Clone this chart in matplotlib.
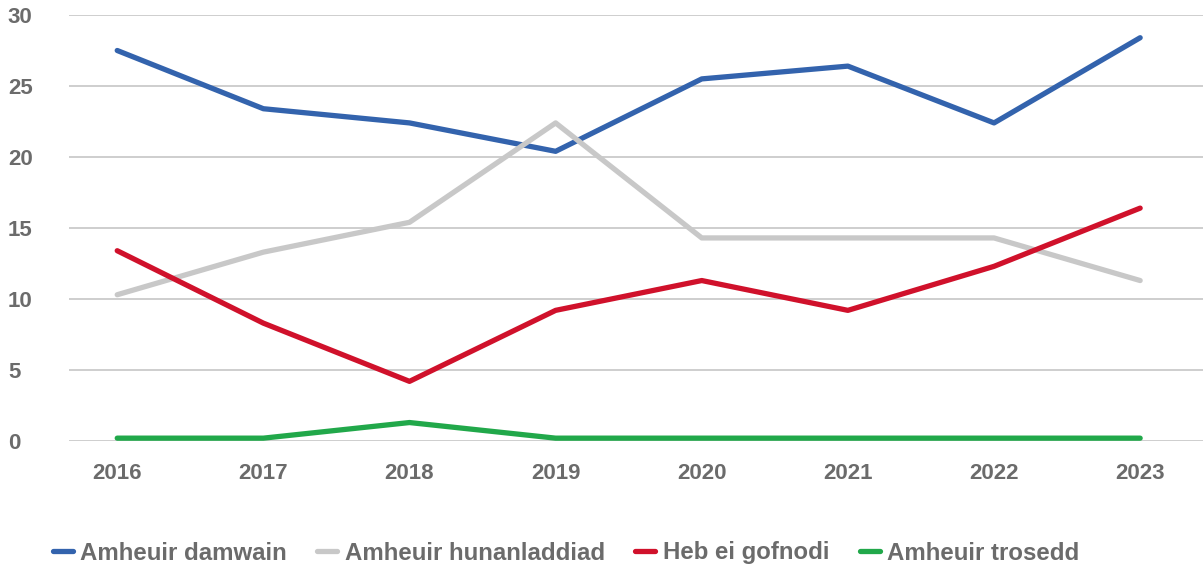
import matplotlib.pyplot as plt

years = ['2016', '2017', '2018', '2019', '2020', '2021', '2022', '2023']
damwain = [27.5, 23.4, 22.4, 20.4, 25.5, 26.4, 22.4, 28.4]
hunanladdiad = [10.3, 13.3, 15.4, 22.4, 14.3, 14.3, 14.3, 11.3]
heb_gofnodi = [13.4, 8.3, 4.2, 9.2, 11.3, 9.2, 12.3, 16.4]
trosedd = [0.2, 0.2, 1.3, 0.2, 0.2, 0.2, 0.2, 0.2]

series = [
    ('Amheuir damwain', damwain, '#3363ad'),
    ('Amheuir hunanladdiad', hunanladdiad, '#c8c8c8'),
    ('Heb ei gofnodi', heb_gofnodi, '#d0112b'),
    ('Amheuir trosedd', trosedd, '#21a84a'),
]

plt.rcParams['font.family'] = ['Liberation Sans', 'DejaVu Sans']
txt = '#6b6b6b'

fig = plt.figure(figsize=(12.03, 5.68), dpi=100)
ax = fig.add_axes([69 / 1203, 1 - 441 / 568, 1 - 69 / 1203, 426 / 568])

x = range(len(years))
for name, vals, col in series:
    ax.plot(x, vals, color=col, lw=3.8, label=name, solid_capstyle='round',
            solid_joinstyle='round')

ax.set_ylim(0, 30)
ax.set_yticks(range(0, 31, 5))
ax.set_xlim(-0.33, 7.43)
ax.set_xticks(list(x))
ax.set_xticklabels(years)
ax.grid(axis='y', color='#c6c6c6', lw=1.2)
ax.set_axisbelow(True)
for s in ax.spines.values():
    s.set_visible(False)
ax.tick_params(length=0, labelsize=16, labelcolor=txt, pad=16)
ax.tick_params(axis='y', pad=44)
for lab in ax.get_xticklabels() + ax.get_yticklabels():
    lab.set_fontweight('bold')
for lab in ax.get_yticklabels():
    lab.set_horizontalalignment('left')

leg = fig.legend(loc='center left', bbox_to_anchor=(31 / 1203, 1 - 553 / 568),
                 ncol=4, frameon=False, handlelength=0.83, handletextpad=0.31,
                 columnspacing=1.27, prop={'size': 17.3, 'weight': 'bold'})
for t in leg.get_texts():
    t.set_color(txt)

fig.savefig('out.png')
